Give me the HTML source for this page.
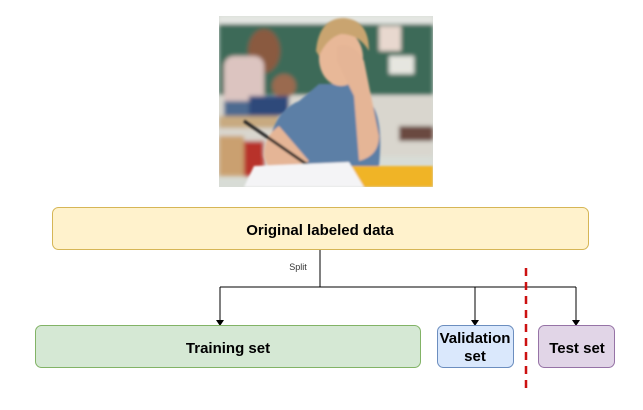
<!DOCTYPE html>
<html><head><style>
body{margin:0;background:#fff;width:643px;height:405px;overflow:hidden;font-family:"Liberation Sans",sans-serif}
</style></head><body>
<svg width="643" height="405" viewBox="0 0 643 405" xmlns="http://www.w3.org/2000/svg">
<defs><filter id="b"><feGaussianBlur stdDeviation="2"/></filter><filter id="b2"><feGaussianBlur stdDeviation="1"/></filter></defs>
<svg x="219" y="16" width="214" height="171" viewBox="0 0 214 171">
<rect width="214" height="171" fill="#d8dcd6"/>
<g filter="url(#b)">
<rect x="0" y="4" width="214" height="75" fill="#3d6a58"/>
<rect x="0" y="0" width="214" height="8" fill="#e6e8e4"/>
<rect x="160" y="10" width="22" height="25" fill="#e8d8cf"/>
<rect x="170" y="40" width="25" height="18" fill="#e6e6e0"/>
<rect x="0" y="80" width="214" height="60" fill="#d9d6ce"/>
<ellipse cx="45" cy="35" rx="16" ry="22" fill="#8a5a40"/>
<rect x="5" y="40" width="40" height="55" rx="10" fill="#dcc4c0"/>
<rect x="5" y="85" width="50" height="20" fill="#4d6a90"/>
<ellipse cx="65" cy="70" rx="12" ry="12" fill="#9a6a50"/>
<rect x="30" y="80" width="40" height="20" fill="#2d4a7a"/>
<rect x="0" y="100" width="60" height="12" fill="#c8aa80"/>
<rect x="0" y="120" width="25" height="40" fill="#caa070"/>
<rect x="25" y="125" width="20" height="35" fill="#b8332a"/>
<rect x="180" y="110" width="34" height="15" fill="#6a4a40"/>
</g>
<g filter="url(#b2)">
<path d="M50 130 Q55 95 80 85 L100 68 L130 68 L150 85 Q165 100 160 150 L55 160Z" fill="#5b7fa6"/>
<ellipse cx="122" cy="42" rx="22" ry="28" fill="#e8b898"/>
<path d="M97 35 Q100 2 125 2 Q150 4 150 35 Q140 18 122 18 Q108 22 100 40Z" fill="#c9a470"/>
<path d="M118 30 Q135 25 145 45 L160 120 Q160 140 140 145 L135 80 Q125 60 118 45Z" fill="#e5b596"/>
<path d="M45 140 Q45 120 60 110 L90 145 L70 160 Q50 160 45 140Z" fill="#e5b596"/>
<line x1="25" y1="105" x2="90" y2="150" stroke="#222" stroke-width="3"/>
<rect x="130" y="150" width="84" height="21" fill="#f0b428"/>
<path d="M35 150 L130 146 L145 171 L25 171Z" fill="#f4f4f6"/>
</g>
</svg>
<rect x="52.5" y="207.5" width="536" height="42" rx="6" fill="#fff2cc" stroke="#d6b656"/>
<text x="320" y="235" text-anchor="middle" font-size="15" font-weight="bold" fill="#000">Original labeled data</text>
<path d="M320 250 V287 M220 287 H576 M220 287 V321 M475 287 V321 M576 287 V321" stroke="#000" fill="none"/>
<path d="M216 320 L224 320 L220 326Z M471 320 L479 320 L475 326Z M572 320 L580 320 L576 326Z" fill="#000"/>
<text x="298" y="270" text-anchor="middle" font-size="9" fill="#333">Split</text>
<line x1="526" y1="268" x2="526" y2="394" stroke="#cc1111" stroke-width="2.5" stroke-dasharray="8,6"/>
<rect x="35.5" y="325.5" width="385" height="42" rx="6" fill="#d5e8d4" stroke="#82b366"/>
<text x="228" y="353" text-anchor="middle" font-size="15" font-weight="bold">Training set</text>
<rect x="437.5" y="325.5" width="76" height="42" rx="6" fill="#dae8fc" stroke="#6c8ebf"/>
<text x="475" y="343" text-anchor="middle" font-size="15" font-weight="bold">Validation</text>
<text x="475" y="361" text-anchor="middle" font-size="15" font-weight="bold">set</text>
<rect x="538.5" y="325.5" width="76" height="42" rx="6" fill="#e1d5e7" stroke="#9673a6"/>
<text x="577" y="353" text-anchor="middle" font-size="15" font-weight="bold">Test set</text>
</svg>
</body></html>
